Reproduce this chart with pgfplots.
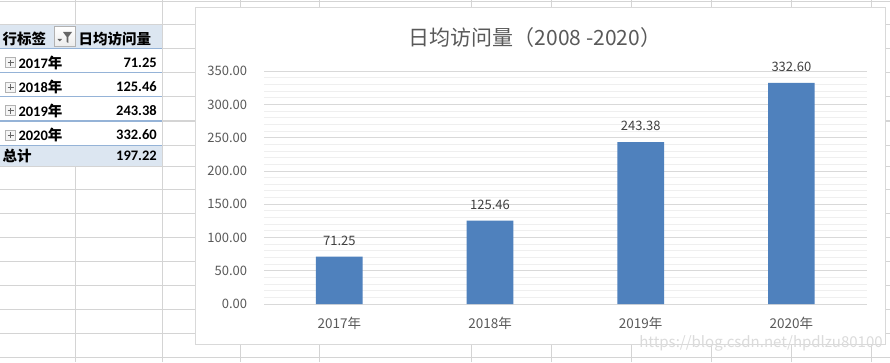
\documentclass[border=0pt]{standalone}
\usepackage{fontspec}
\setmainfont{Noto Sans CJK SC}
\newfontfamily\numf{Carlito}
\usepackage{pgfplots}
\pgfplotsset{compat=1.18}
\pgfplotsset{/pgf/number format/assume math mode=true}
\definecolor{txt}{HTML}{595959}
\definecolor{lbl}{HTML}{404040}
\definecolor{barc}{HTML}{4F81BD}
\definecolor{xlgrid}{HTML}{D4D4D4}
\definecolor{pvfill}{HTML}{DCE6F1}
\definecolor{pvline}{HTML}{95B3D7}
\definecolor{majg}{HTML}{D9D9D9}
\definecolor{ming}{HTML}{EFEFEF}
\begin{document}
\begin{tikzpicture}[x=1pt,y=1pt]
\useasboundingbox (0,0) rectangle (890,362);
\fill[white] (0,0) rectangle (890,362);
% spreadsheet grid
\foreach \r in {1.7,25,49,73,97,121,145,166,189.3,213.3,237.3,261.3,285.5,309.5,333.6,357.5}
  \draw[xlgrid, line width=1pt] (0,{362-\r}) -- (890,{362-\r});
\foreach \c in {75.3,162.3,240,319.4,471.4,551.6,631.5,711.6,791.5,871.5}
  \draw[xlgrid, line width=1pt] (\c,0) -- (\c,362);
% chart frame
\filldraw[fill=white, draw=majg, line width=1pt] (195.5,{362-344}) rectangle (885,{362-8});
% pivot table
\fill[pvfill] (0,{362-49}) rectangle (162,{362-25});
\fill[white] (0,{362-145}) rectangle (162,{362-49});
\fill[pvfill] (0,{362-166}) rectangle (162,{362-145});
\foreach \r in {49,73,97,121,145}
  \draw[pvline, line width=1pt] (0,{362-\r}) -- (162,{362-\r});
\draw[xlgrid, line width=1pt] (162.3,0) -- (162.3,362);
% filter button
\shade[top color=white, bottom color=gray!15, draw=gray!60] (54.5,{362-46.7}) rectangle (75,{362-26.7});
\fill[gray!80!black] (63,{362-32}) -- (72,{362-32}) -- (68.3,{362-37}) -- (68.3,{362-43}) -- (66.7,{362-42}) -- (66.7,{362-37}) -- cycle;
\fill[gray!80!black] (57.5,{362-39}) -- (62,{362-39}) -- (59.75,{362-41.5}) -- cycle;
\begin{scope}[font=\fontsize{14.5}{14.5}\selectfont\bfseries]
\node[anchor=west, inner sep=0] at (2.5,{362-39}) {行标签};
\node[anchor=west, inner sep=0] at (78.5,{362-39}) {日均访问量};
\foreach \y/\yr/\v in {62.7/2017/71.25, 87/2018/125.46, 110.7/2019/243.38, 135/2020/332.60}{
  \draw[gray!60, fill=gray!8, line width=0.8pt] (5.5,{362-\y-5}) rectangle (15.5,{362-\y+5});
  \draw[gray!80!black, line width=0.8pt] (7.5,{362-\y}) -- (13.5,{362-\y}) (10.5,{362-\y-3}) -- (10.5,{362-\y+3});
  \node[anchor=west, inner sep=0] at (18.3,{362-\y}) {{\numf\yr}年};
  \node[anchor=east, inner sep=0] at (157,{362-\y}) {\numf\v};
}
\node[anchor=west, inner sep=0] at (2.5,{362-155.7}) {总计};
\node[anchor=east, inner sep=0] at (157,{362-155.7}) {\numf 197.22};
\end{scope}
% title
\node[text=txt, font=\fontsize{21}{21}\selectfont] at (535,{362-38}) {日均访问量（2008 -2020）};
\begin{axis}[
  at={(264pt,58pt)}, anchor=south west,
  scale only axis, width=602.7pt, height=232.7pt,
  xmin=-0.5, xmax=3.5, ymin=0, ymax=350,
  xtick={0,1,2,3}, xticklabels={2017年,2018年,2019年,2020年},
  ytick={0,50,...,350},
  minor y tick num=4,
  ymajorgrids, yminorgrids,
  major grid style={majg, line width=1pt},
  minor grid style={ming, line width=1pt},
  axis line style={draw=none},
  major tick length=0pt, minor tick length=0pt,
  tick style={draw=none},
  tick label style={font=\fontsize{13}{13}\selectfont, text=txt, inner sep=0pt},
  xticklabel style={anchor=center, yshift=-19.8pt, font=\fontsize{13.5}{13.5}\selectfont},
  yticklabel style={anchor=east, xshift=-16.7pt, /pgf/number format/fixed, /pgf/number format/fixed zerofill, /pgf/number format/precision=2},
  clip=false,
]
\addplot[ybar, bar width=46.7pt, fill=barc, draw=none,
  nodes near coords={\pgfmathprintnumber[fixed,fixed zerofill,precision=2]{\pgfplotspointmeta}},
  nodes near coords style={anchor=center, yshift=16pt, font=\fontsize{13}{13}\selectfont, text=lbl, inner sep=0pt}]
  coordinates {(0,71.25) (1,125.46) (2,243.38) (3,332.60)};
\end{axis}
% watermark
\node[text=gray!28, font=\fontsize{15}{15}\selectfont, inner sep=0] at (761,{362-343}) {https://blog.csdn.net/hpdlzu80100};
\end{tikzpicture}
\end{document}
